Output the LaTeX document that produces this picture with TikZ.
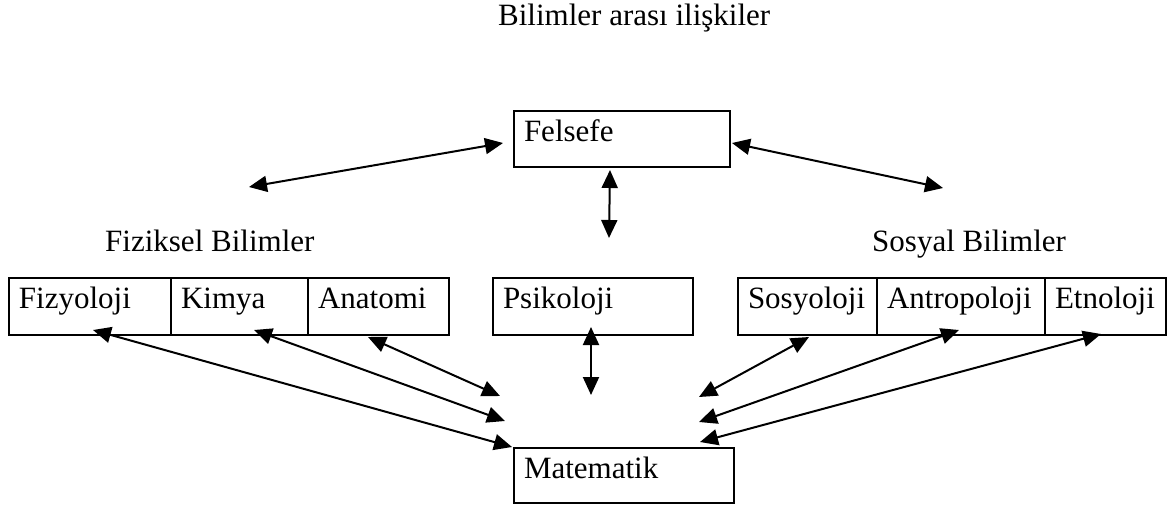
\documentclass[tikz,border=0pt]{standalone}
\usepackage{fontspec}
\setmainfont{Liberation Serif}
\usetikzlibrary{arrows.meta}
\begin{document}
\begin{tikzpicture}[x=1pt,y=-1pt,
  every node/.style={font=\fontsize{31}{37}\selectfont},
  box/.style={draw,line width=2pt,anchor=north west,inner xsep=10pt,inner ysep=0pt,
    text height=30pt,text depth=26pt,align=left},
  lbl/.style={anchor=base west,inner sep=0pt},
  arr/.style={line width=2pt,{Triangle[length=18pt,width=16pt]}-{Triangle[length=18pt,width=16pt]}}]
\useasboundingbox (0,0) rectangle (1171,506);
\node[lbl] (title) at (498,25) {Bilimler arası ilişkiler};
\node[lbl] (fizb) at (105,251) {Fiziksel Bilimler};
\node[lbl] (sosb) at (872,251) {Sosyal Bilimler};
\node[box,text width=196pt] (fel) at (513,110) {Felsefe};
\node[box,text width=142pt,text depth=27pt] (fiz) at (8,277) {Fizyoloji};
\node[box,text width=117pt,text depth=27pt] (kim) at (170,277) {Kimya};
\node[box,text width=121pt,text depth=27pt] (ana) at (307,277) {Anatomi};
\node[box,text width=180pt,text depth=27pt] (psi) at (492,277) {Psikoloji};
\node[box,text width=119pt,text depth=27pt] (sos) at (737,277) {Sosyoloji};
\node[box,text width=148pt,text depth=27pt] (ant) at (876,277) {Antropoloji};
\node[box,text width=101pt,text depth=27pt] (etn) at (1044,277) {Etnoloji};
\node[box,text width=200pt,text depth=25pt] (mat) at (513,447) {Matematik};
\coordinate (fl) at (249,187);
\coordinate (fr) at (943,188);
\coordinate (fd) at (609,238);
\draw[arr] ([shift={(-10,4)}]fel.west) -- (fl);
\draw[arr] ([shift={(1,4)}]fel.east) -- (fr);
\draw[arr] ([shift={(-12,2)}]fel.south) -- (fd);
\draw[arr] ([shift={(3,-6)}]fiz.south) -- ([shift={(-1,0)}]mat.north west);
\draw[arr] ([shift={(14.5,-6)}]kim.south) -- ([shift={(-8,-26)}]mat.north west);
\draw[arr] ([shift={(-10.5,1)}]ana.south) -- ([shift={(-13,-51)}]mat.north west);
\draw[arr] ([shift={(-2,-9)}]psi.south) -- ([shift={(-33,-52)}]mat.north);
\draw[arr] ([shift={(1.5,1)}]sos.south) -- ([shift={(-36,-50)}]mat.north east);
\draw[arr] ([shift={(-2,-6)}]ant.south) -- ([shift={(-36,-25)}]mat.north east);
\draw[arr] ([shift={(-4.5,-2)}]etn.south) -- ([shift={(-35,-5)}]mat.north east);
\end{tikzpicture}
\end{document}
